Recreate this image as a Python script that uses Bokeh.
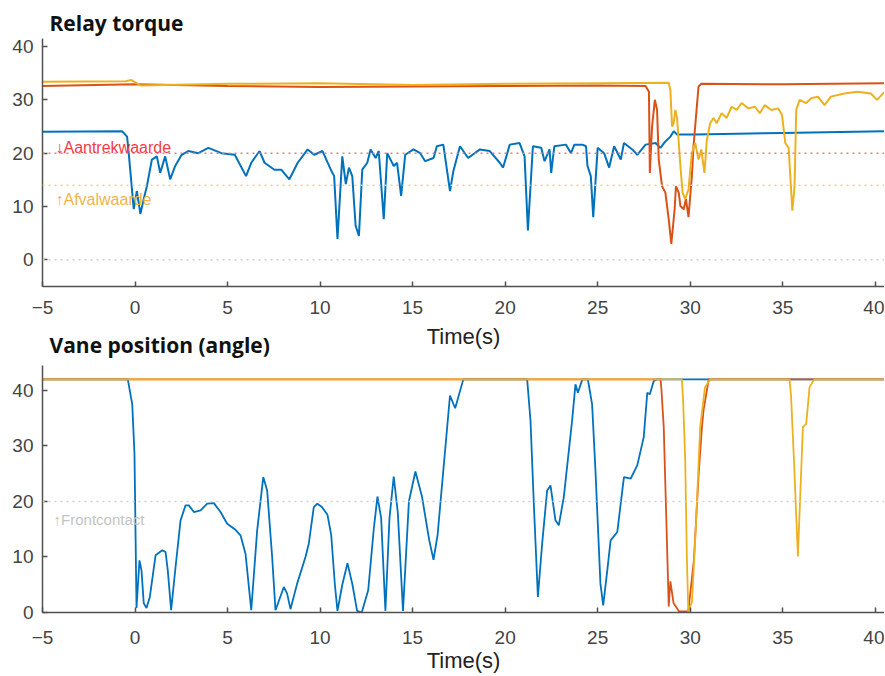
from bokeh.plotting import figure
from bokeh.layouts import column
from bokeh.models import Span, Label
from bokeh.embed import file_html
from bokeh.resources import INLINE

# ---------------- data ----------------
x_ticks = [-5, 0, 5, 10, 15, 20, 25, 30, 35, 40]
y_ticks = [0, 10, 20, 30, 40]

# Relay torque
torque_blue_t = [-5, -0.7, -0.43, -0.34, -0.07, 0.1, 0.29, 0.47, 0.64, 0.91, 1.18, 1.36, 1.63, 1.9, 2.17, 2.52,
                 2.88, 3.42, 3.96, 4.67, 5.39, 6.0, 6.28, 6.73, 7.0, 7.53, 7.9, 8.34, 8.79, 9.33, 9.68, 10.13,
                 10.58, 10.76, 10.94, 11.2, 11.39, 11.56, 11.74, 11.92, 12.1, 12.28, 12.55, 12.73, 13.0, 13.17,
                 13.44, 13.63, 13.98, 14.16, 14.38, 14.6, 15.05, 15.41, 15.68, 16.13, 16.31, 16.66, 17.02, 17.2,
                 17.56, 18.0, 18.64, 19.17, 19.71, 19.89, 20.25, 20.78, 21.05, 21.23, 21.5, 21.95, 22.13, 22.4,
                 22.49, 22.66, 23.29, 23.56, 23.74, 24.18, 24.37, 24.45, 24.63, 24.76, 25.0, 25.35, 25.62, 25.89,
                 26.25, 26.42, 26.87, 27.14, 27.59, 28.13, 28.39, 28.66, 28.93, 29.11, 29.29, 30.27, 35.0, 40.5]
torque_blue_v = [24, 24.1, 23.1, 20, 9.5, 12.9, 8.6, 11.4, 13.8, 18.8, 19.4, 16.3, 19.4, 15.1, 17.6, 19.7,
                 20.4, 20, 21, 20, 19.7, 15.7, 18.2, 20.4, 18.2, 16.9, 16.9, 15.1, 18.2, 20.7, 19.7, 20.4,
                 16.9, 15.7, 3.9, 19.4, 14.2, 17.3, 15.7, 6.4, 4.5, 16.9, 18.2, 20.7, 19.1, 20.4,
                 7.6, 20, 17.6, 18.2, 12, 19.7, 20.7, 20, 18.5, 19.1, 21.3, 21.6, 12.9, 16.6,
                 21.3, 19.1, 20.7, 20.4, 18.2, 17.3, 21.6, 21.9, 19.4, 5.5, 21.3, 21, 18.5, 20.7,
                 16.3, 21.3, 21.6, 20, 21.6, 21.6, 21.3, 17.6, 15.7, 8, 21, 20, 17.3, 21.3,
                 18.8, 21.9, 20.7, 19.7, 21.6, 21.9, 21, 22.2, 23.1, 24.1, 23.5, 23.5, 23.8, 24.1]

torque_orange_t = [-5, 0, 5, 10, 15, 20, 25, 27.59, 27.77, 27.82, 27.94, 28.09, 28.21, 28.3, 28.48, 28.66, 28.84,
                   28.98, 29.16, 29.23, 29.38, 29.47, 29.65, 29.77, 29.91, 30.09, 30.18, 30.3, 30.45, 30.6, 35, 40.5]
torque_orange_v = [32.6, 32.9, 32.6, 32.4, 32.5, 32.6, 32.7, 32.6, 31.5, 16.3, 25, 30, 28.1, 18.8, 13.8, 12.6, 7.6,
                   3, 9.5, 13.8, 12.6, 10.1, 9.5, 11.4, 8, 15.7, 21.3, 26.3, 32.5, 33, 32.9, 33.1]

torque_yellow_t = [-5, -0.5, -0.2, 0.3, 5, 10, 15, 20, 25, 28.84, 28.93, 29.02, 29.1, 29.2, 29.29, 29.47, 29.59,
                   29.73, 29.91, 30.09, 30.27, 30.45, 30.6, 30.77, 30.9, 31.08, 31.26, 31.43, 31.7, 31.97, 32.24,
                   32.51, 32.78, 33.14, 33.5, 33.76, 34.03, 34.39, 34.75, 34.96, 35.14, 35.32, 35.52, 35.64, 35.73,
                   35.91, 36.27, 36.54, 36.9, 37.26, 37.6, 38.33, 39.04, 39.76, 40.1, 40.5]
torque_yellow_v = [33.4, 33.5, 33.7, 32.7, 33.0, 33.1, 32.8, 33.0, 33.1, 33.2, 31.8, 25, 25.6, 28.1, 26.6, 17.6, 12.6,
                   11.4, 13.2, 20, 21.9, 18.8, 20.7, 16.3, 22.5, 25.6, 26.6, 25.6, 27.5, 26.6, 28.7,
                   28.1, 29.4, 28.4, 28.7, 27.5, 29, 28.1, 28.4, 27.2, 21.9, 21, 9.2, 13.8, 28.1,
                   30, 29.4, 30.3, 30.6, 29, 30.6, 31.2, 31.5, 31.2, 30, 31.5]

torque_levels = [20, 14, 0]
torque_level_names = ["↓Aantrekwaarde", "↑Afvalwaarde"]

# Vane position
vane_blue_t = [-5, -0.39, -0.15, -0.03, 0.03, 0.08, 0.24, 0.35, 0.47, 0.62, 0.8, 1.11, 1.47, 1.65, 1.77, 1.95,
               2.19, 2.46, 2.73, 2.91, 3.18, 3.54, 3.9, 4.26, 4.62, 4.98, 5.43, 5.7, 5.97, 6.28, 6.6, 6.93,
               7.14, 7.41, 7.59, 8.04, 8.22, 8.4, 8.76, 9.21, 9.39, 9.66, 9.85, 10.1, 10.4, 10.6, 10.8, 10.94,
               11.2, 11.48, 11.75, 12.0, 12.25, 12.6, 12.9, 13.1, 13.3, 13.53, 13.75, 13.98, 14.2, 14.48,
               14.8, 15.15, 15.5, 15.9, 16.13, 16.35, 17.02, 17.3, 17.74, 21.19, 21.37, 21.55, 21.77, 22.0,
               22.27, 22.45, 22.72, 22.9, 23.17, 23.62, 23.8, 23.93, 24.17, 24.47, 24.7, 24.88, 25.15, 25.3,
               25.52, 25.7, 26.06, 26.42, 26.78, 27.14, 27.49, 27.68, 27.82, 28.03, 28.2, 40.5]
vane_blue_v = [42, 42, 37.5, 28.6, 13.6, 0.8, 9.4, 7.6, 1.7, 0.8, 2.8, 10.3, 11.2, 10.9, 7.6, 0.4,
               8.2, 16.6, 19.3, 19.3, 18.1, 18.4, 19.6, 19.7, 18.1, 16, 14.9, 13.9, 10.6, 0.4, 14.8, 24.4,
               22, 10, 0.4, 4.6, 3.4, 0.6, 5.2, 10, 12.4, 19, 19.6, 19.0, 17.6, 14, 5, 0.3,
               5, 8.9, 5, 0.3, 0, 4, 15, 20.9, 17, 0.3, 17, 24.5, 18, 0.3,
               20, 25.4, 21, 13, 9.5, 14, 39.1, 36.8, 42, 42, 34.6, 19.6, 2.8, 12.4,
               22, 22.9, 16.6, 15.7, 20.8, 34.6, 41.1, 39.6, 42, 42, 37.5, 25.6, 5.2, 1.3,
               7.6, 13, 14.5, 24.4, 24.1, 26.5, 31.6, 39.6, 39.3, 41.7, 42, 42]

vane_orange_t = [-5, 28.4, 28.45, 28.57, 28.7, 28.84, 28.93, 29.1, 29.4, 29.9, 30.2, 30.45, 30.63, 30.72, 31.0, 40.5]
vane_orange_v = [42, 42, 40, 33.4, 18, 1.1, 5.6, 1.7, 0.2, 0.2, 9.5, 24.5, 33.2, 36.4, 42, 42]

vane_yellow_t = [-5, 29.55, 29.62, 29.73, 29.82, 29.9, 30.1, 30.3, 30.54, 30.8, 31.08, 35.37, 35.45, 35.6, 35.82,
                 36.09, 36.27, 36.45, 36.7, 40.5]
vane_yellow_v = [42, 42, 38, 27.5, 10, 0, 2, 15, 33.4, 40.6, 42, 42, 39, 28, 10.1,
                 33.4, 34, 40.6, 42, 42]

vane_levels = [20]
vane_level_names = ["↑Frontcontact"]

BLUE = "#0072BD"
ORANGE = "#D95319"
YELLOW = "#EDB120"
AXIS = "#505050"


def make_fig(title, height, y_range, border_top, border_bottom, title_standoff,
             label_standoff, axis_label_standoff):
    p = figure(width=884, height=height, x_range=(-5, 40.5), y_range=y_range,
               output_backend="svg", toolbar_location=None, title=title,
               min_border_left=42, min_border_right=0, min_border_top=border_top,
               min_border_bottom=border_bottom)
    p.title.text_font = "Open Sans"
    p.title.text_font_size = "21px"
    p.title.text_font_style = "bold"
    p.title.text_color = "#111111"
    p.title.offset = 7
    p.title.standoff = title_standoff
    p.outline_line_color = None
    p.grid.visible = False
    for ax in (p.xaxis[0], p.yaxis[0]):
        ax.axis_line_color = AXIS
        ax.axis_line_width = 1.5
        ax.major_tick_line_color = AXIS
        ax.major_tick_line_width = 1.5
        ax.major_tick_in = 5
        ax.major_tick_out = 0
        ax.minor_tick_in = 0
        ax.minor_tick_out = 0
        ax.major_label_text_font = "Liberation Sans"
        ax.major_label_text_font_size = "19px"
        ax.major_label_text_color = "#444444"
    p.yaxis.major_label_standoff = 9
    p.xaxis.major_label_standoff = label_standoff
    p.xaxis.ticker = x_ticks
    p.yaxis.ticker = y_ticks
    p.xaxis.axis_label = "Time(s)"
    p.xaxis.axis_label_text_font = "Liberation Sans"
    p.xaxis.axis_label_text_font_size = "22px"
    p.xaxis.axis_label_text_font_style = "normal"
    p.xaxis.axis_label_text_color = "#222222"
    p.xaxis.axis_label_standoff = axis_label_standoff
    return p


# ---------------- top: relay torque ----------------
p1 = make_fig("Relay torque", 351, (-5, 41.5), 38, 63, 3, 14, 7)
level_colors = ["#f07a80", "#f6d08e", "#cfcfcf"]
for lvl, col in zip(torque_levels, level_colors):
    p1.add_layout(Span(location=lvl, dimension="width", line_color=col,
                       line_dash="2 4", line_width=1.5))
p1.line(torque_blue_t, torque_blue_v, line_color=BLUE, line_width=2)
p1.line(torque_orange_t, torque_orange_v, line_color=ORANGE, line_width=2)
p1.line(torque_yellow_t, torque_yellow_v, line_color=YELLOW, line_width=2)
p1.add_layout(Label(x=-4.3, y=torque_levels[0] + 1.1, text=torque_level_names[0],
                    text_font="Liberation Sans", text_font_size="16px",
                    text_color="#f03c46", text_baseline="alphabetic"))
p1.add_layout(Label(x=-4.3, y=torque_levels[1] - 2.6, text=torque_level_names[1],
                    text_font="Liberation Sans", text_font_size="16px",
                    text_color="#f2b447", text_baseline="alphabetic"))

# ---------------- bottom: vane position ----------------
p2 = make_fig("Vane position (angle)", 353, (0, 44.5), 40, 62, 13, 18, 1)
p2.border_fill_color = None
p2.margin = (-29, 0, 0, 0)
p2.add_layout(Span(location=vane_levels[0], dimension="width", line_color="#cfcfcf",
                   line_dash="2 4", line_width=1.5))
p2.line(vane_blue_t, vane_blue_v, line_color=BLUE, line_width=1.8)
p2.line(vane_orange_t, vane_orange_v, line_color=ORANGE, line_width=1.8)
p2.line(vane_yellow_t, vane_yellow_v, line_color=YELLOW, line_width=1.8)
p2.add_layout(Label(x=-4.4, y=vane_levels[0] - 3.2, text=vane_level_names[0],
                    text_font="Liberation Sans", text_font_size="15px",
                    text_color="#c4c4c4", text_baseline="alphabetic"))

layout = column(p1, p2, spacing=0)
open("out.html", "w").write(file_html(layout, INLINE))
